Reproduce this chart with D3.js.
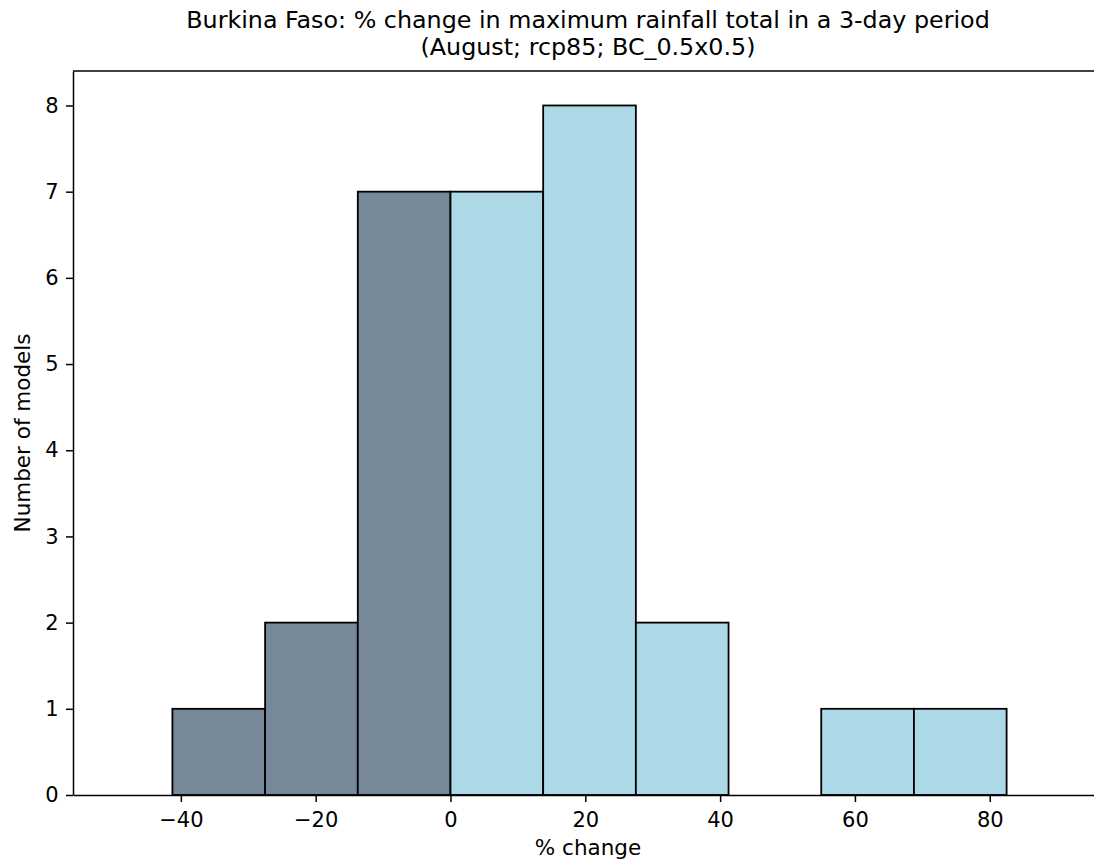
<!DOCTYPE html>
<html>
<head>
<meta charset="utf-8">
<script src="https://cdn.jsdelivr.net/npm/d3@7"></script>
<style>
  html, body { margin: 0; padding: 0; background: #ffffff; }
  svg { display: block; }
  text { font-family: "DejaVu Sans", sans-serif; fill: #000; }
</style>
</head>
<body>
<div id="chart"></div>
<script>
// ---- data ----
const titleLines = [
  "Burkina Faso: % change in maximum rainfall total in a 3-day period",
  "(August; rcp85; BC_0.5x0.5)"
];
const xLabel = "% change";
const yLabel = "Number of models";
const binEdges = [-41.25, -27.5, -13.75, 0, 13.75, 27.5, 41.25, 55, 68.75, 82.5];
const counts = [1, 2, 7, 7, 8, 2, 0, 1, 1];
const xTicks = [-40, -20, 0, 20, 40, 60, 80];
const yTicks = [0, 1, 2, 3, 4, 5, 6, 7, 8];
const xDomain = [-56.0, 96.8];
const yDomain = [0, 8.4];

(function () {
  // ---- layout ----
  const W = 1094, H = 865;
  const mLeft = 73, mRight = 1103, mTop = 71, mBottom = 795;
  const negColor = "#778899", posColor = "#add8e6";

  const svg = d3.select("#chart").append("svg").attr("width", W).attr("height", H);

  const x = d3.scaleLinear().domain(xDomain).range([mLeft, mRight]);
  const y = d3.scaleLinear().domain(yDomain).range([mBottom, mTop]);

  const bins = counts.map((c, i) => ({ x0: binEdges[i], x1: binEdges[i + 1], count: c }));

  // bars
  svg.append("g").selectAll("rect").data(bins.filter(d => d.count > 0)).join("rect")
    .attr("x", d => x(d.x0))
    .attr("y", d => y(d.count))
    .attr("width", d => x(d.x1) - x(d.x0))
    .attr("height", d => y(0) - y(d.count))
    .attr("fill", d => d.x0 < 0 ? negColor : posColor)
    .attr("stroke", "#000")
    .attr("stroke-width", 1.8);

  const fmt = v => (v < 0 ? "\u2212" + Math.abs(v) : String(v));

  // x axis
  const gx = svg.append("g").attr("transform", `translate(0,${mBottom})`)
    .call(d3.axisBottom(x).tickValues(xTicks).tickFormat(fmt).tickSize(7).tickPadding(10).tickSizeOuter(0));
  gx.select(".domain").attr("stroke", "#000").attr("stroke-width", 1.5);
  gx.selectAll(".tick line").attr("stroke", "#000").attr("stroke-width", 1.5);
  gx.selectAll(".tick text").attr("font-size", 21).attr("font-family", "DejaVu Sans");

  // y axis
  const gy = svg.append("g").attr("transform", `translate(${mLeft},0)`)
    .call(d3.axisLeft(y).tickValues(yTicks).tickFormat(d3.format("d")).tickSize(7).tickPadding(7.5).tickSizeOuter(0));
  gy.select(".domain").attr("stroke", "#000").attr("stroke-width", 1.5);
  gy.selectAll(".tick line").attr("stroke", "#000").attr("stroke-width", 1.5);
  gy.selectAll(".tick text").attr("font-size", 21).attr("font-family", "DejaVu Sans");

  // top spine
  svg.append("line")
    .attr("x1", mLeft).attr("x2", mRight).attr("y1", mTop).attr("y2", mTop)
    .attr("stroke", "#000").attr("stroke-width", 1.5);
  // right spine (outside the window)
  svg.append("line")
    .attr("x1", mRight).attr("x2", mRight).attr("y1", mTop).attr("y2", mBottom)
    .attr("stroke", "#000").attr("stroke-width", 1.5);

  // title
  const cx = (mLeft + mRight) / 2;
  svg.append("text").attr("x", cx).attr("y", 28).attr("text-anchor", "middle")
    .attr("font-size", 23.8).text(titleLines[0]);
  svg.append("text").attr("x", cx).attr("y", 55).attr("text-anchor", "middle")
    .attr("font-size", 23.8).text(titleLines[1]);

  // axis labels
  svg.append("text").attr("x", cx).attr("y", 855).attr("text-anchor", "middle")
    .attr("font-size", 21.5).text(xLabel);
  svg.append("text").attr("transform", `translate(30,${(mTop + mBottom) / 2}) rotate(-90)`)
    .attr("text-anchor", "middle").attr("font-size", 21.5).text(yLabel);
})();
</script>
</body>
</html>
